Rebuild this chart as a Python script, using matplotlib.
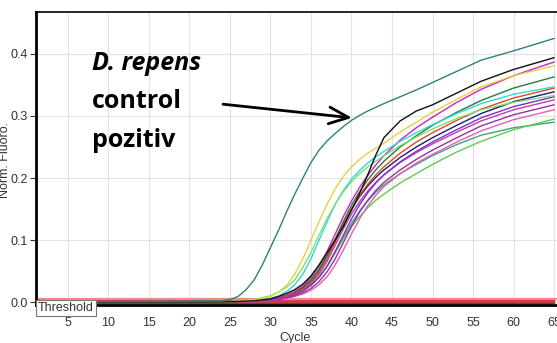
import matplotlib
matplotlib.use('Agg')
import matplotlib.pyplot as plt

# cicluri pentru controlul pozitiv (D. repens)
cicluri_poz = [1, 24, 25, 26, 27, 28, 29, 30, 31, 32, 33, 34, 35, 36, 37, 38, 39, 40,
               41, 42, 43, 44, 46, 48, 50, 53, 56, 60, 65]
control_poz = [0.0, 0.002, 0.004, 0.009, 0.02, 0.036, 0.06, 0.088, 0.116, 0.146, 0.174,
               0.2, 0.225, 0.245, 0.26, 0.272, 0.283, 0.293, 0.301, 0.308, 0.314, 0.32,
               0.331, 0.342, 0.354, 0.372, 0.39, 0.405, 0.425]

# cicluri pentru probe
cicluri = [1, 24, 28, 30, 31, 32, 33, 34, 35, 36, 37, 38, 39, 40, 41, 42, 43, 44,
           46, 48, 50, 53, 56, 60, 65]

proba_galben = [0, 0.0, 0.003, 0.009, 0.016, 0.027, 0.045, 0.07, 0.1, 0.13, 0.158, 0.183,
                0.203, 0.218, 0.23, 0.24, 0.248, 0.256, 0.274, 0.29, 0.306, 0.327, 0.347,
                0.365, 0.381]
proba_verde_deschis = [0, 0.0, 0.004, 0.01, 0.016, 0.024, 0.036, 0.056, 0.08, 0.108, 0.135,
                       0.158, 0.178, 0.194, 0.207, 0.218, 0.227, 0.236, 0.252, 0.266,
                       0.279, 0.296, 0.31, 0.322, 0.333]
proba_cyan = [0, 0.0, 0.002, 0.006, 0.01, 0.017, 0.028, 0.045, 0.07, 0.1, 0.13, 0.158, 0.18,
              0.198, 0.212, 0.224, 0.234, 0.243, 0.259, 0.273, 0.286, 0.304, 0.32, 0.335,
              0.347]
proba_negru = [0, 0.0, 0.002, 0.005, 0.009, 0.014, 0.02, 0.029, 0.042, 0.06, 0.08, 0.1,
               0.122, 0.148, 0.175, 0.205, 0.237, 0.265, 0.292, 0.308, 0.318, 0.337, 0.356,
               0.375, 0.394]
proba_magenta = [0, 0.0, 0.002, 0.004, 0.007, 0.011, 0.017, 0.026, 0.04, 0.058, 0.082, 0.11,
                 0.138, 0.163, 0.185, 0.204, 0.221, 0.236, 0.261, 0.281, 0.298, 0.322,
                 0.343, 0.365, 0.387]
proba_verde_inchis = [0, 0.0, 0.002, 0.004, 0.007, 0.011, 0.016, 0.024, 0.036, 0.053, 0.076,
                      0.102, 0.13, 0.156, 0.178, 0.197, 0.213, 0.227, 0.25, 0.268, 0.285,
                      0.306, 0.325, 0.345, 0.363]
proba_portocaliu = [0, 0.0, 0.001, 0.003, 0.006, 0.009, 0.014, 0.021, 0.032, 0.048, 0.07,
                    0.097, 0.125, 0.15, 0.172, 0.19, 0.205, 0.218, 0.24, 0.258, 0.273,
                    0.293, 0.311, 0.329, 0.345]
proba_bleumarin = [0, 0.0, 0.002, 0.004, 0.007, 0.01, 0.015, 0.023, 0.035, 0.052, 0.075, 0.1,
                   0.126, 0.15, 0.17, 0.187, 0.201, 0.213, 0.233, 0.25, 0.265, 0.285, 0.304,
                   0.323, 0.339]
proba_mov = [0, 0.0, 0.001, 0.003, 0.005, 0.008, 0.012, 0.018, 0.027, 0.04, 0.058, 0.082,
             0.108, 0.134, 0.157, 0.176, 0.192, 0.205, 0.226, 0.243, 0.258, 0.278, 0.297,
             0.315, 0.331]
proba_magenta2 = [0, 0.0, 0.001, 0.003, 0.006, 0.009, 0.013, 0.02, 0.03, 0.045, 0.066, 0.092,
                  0.118, 0.142, 0.162, 0.179, 0.193, 0.205, 0.225, 0.241, 0.255, 0.274,
                  0.292, 0.31, 0.326]
proba_mov2 = [0, 0.0, 0.001, 0.002, 0.004, 0.007, 0.01, 0.015, 0.022, 0.033, 0.049, 0.07,
              0.096, 0.122, 0.145, 0.164, 0.18, 0.193, 0.213, 0.23, 0.245, 0.265, 0.284,
              0.302, 0.318]
proba_roz = [0, 0.0, 0.001, 0.002, 0.004, 0.006, 0.009, 0.013, 0.019, 0.028, 0.041, 0.06,
             0.084, 0.11, 0.134, 0.155, 0.172, 0.186, 0.207, 0.224, 0.238, 0.258, 0.276,
             0.294, 0.31]
proba_verde = [0, 0.0, 0.001, 0.003, 0.005, 0.008, 0.012, 0.018, 0.027, 0.04, 0.058, 0.08,
               0.102, 0.122, 0.138, 0.152, 0.164, 0.174, 0.192, 0.207, 0.222, 0.242, 0.259,
               0.278, 0.295]
proba_verde_teal = [0, 0.0, 0.001, 0.003, 0.005, 0.008, 0.012, 0.018, 0.027, 0.04, 0.058,
                    0.08, 0.104, 0.127, 0.147, 0.163, 0.177, 0.189, 0.207, 0.222, 0.236,
                    0.254, 0.269, 0.281, 0.29]

# probe negative (plate)
cicluri_neg = [1, 65]
negative = [[0.001, 0.001], [0.002, 0.002], [-0.002, -0.002], [-0.001, -0.001], [0.0, 0.0]]
culori_neg = ['#8b0000', '#e0207a', '#111111', '#2a6040', '#c04040']
prag = 0.005

probe = [
    (proba_verde_teal, '#3aa585'),
    (proba_verde, '#5ccc4c'),
    (proba_roz, '#e060b0'),
    (proba_mov2, '#9a30a0'),
    (proba_magenta2, '#c03cb0'),
    (proba_mov, '#7a30c8'),
    (proba_bleumarin, '#1a1a80'),
    (proba_portocaliu, '#e04a18'),
    (proba_verde_inchis, '#2a7a40'),
    (proba_magenta, '#cc22cc'),
    (proba_cyan, '#30d8d8'),
    (proba_verde_deschis, '#80e070'),
    (proba_galben, '#e8d040'),
    (proba_negru, '#101010'),
]

plt.rcParams['font.family'] = ['Liberation Sans', 'DejaVu Sans']

fig = plt.figure(figsize=(5.57, 3.43), dpi=100)
ax = fig.add_axes([36 / 557, 1 - 305 / 343, 1 - 36 / 557, (305 - 12) / 343])

for neg, c in zip(negative, culori_neg):
    ax.plot(cicluri_neg, neg, color=c, lw=1.6)
ax.axhline(prag, color='#f08a80', lw=1.6)

for valori, c in probe:
    ax.plot(cicluri, valori, color=c, lw=1.0)
ax.plot(cicluri_poz, control_poz, color='#2e8080', lw=1.0)

ax.set_xlim(1.05, 65.37)
ax.set_ylim(-0.0048, 0.4677)
ax.set_xticks([5, 10, 15, 20, 25, 30, 35, 40, 45, 50, 55, 60, 65])
ax.set_yticks([0.0, 0.1, 0.2, 0.3, 0.4])
ax.set_yticklabels(['0.0', '0.1', '0.2', '0.3', '0.4'])
ax.grid(True, color='#e2e2e2', lw=0.8)
ax.set_axisbelow(True)
ax.tick_params(axis='both', labelsize=9, colors='#333333', length=4, width=0.8, pad=2)
ax.tick_params(axis='x', length=0, pad=9)
for s in ['left', 'bottom']:
    ax.spines[s].set_linewidth(2)
ax.spines['top'].set_linewidth(1.2)
ax.spines['right'].set_visible(False)

fig.text(5 / 557, 1 - 160 / 343, 'Norm. Fluoro.', rotation=90, fontsize=9,
         color='#333333', ha='center', va='center')
fig.text(295 / 557, 1 - 338 / 343, 'Cycle', fontsize=9, color='#333333',
         ha='center', va='center')
fig.text(66 / 557, 1 - 308 / 343, 'Threshold', fontsize=9, color='#333333',
         ha='center', va='center',
         bbox=dict(boxstyle='square,pad=0.15', fc='white', ec='#777777', lw=0.8))

fig.text(92 / 557, 1 - 70 / 343, 'D. repens', fontsize=18, family='Open Sans',
         weight='bold', style='italic', va='baseline')
fig.text(92 / 557, 1 - 108 / 343, 'control', fontsize=18, family='Open Sans',
         weight='bold', va='baseline')
fig.text(92 / 557, 1 - 147 / 343, 'pozitiv', fontsize=18, family='Open Sans',
         weight='bold', va='baseline')

ax.annotate('', xy=(40.06, 0.297), xytext=(24.14, 0.319),
            arrowprops=dict(arrowstyle='->,head_length=1.4,head_width=0.6',
                            lw=2, color='black', shrinkA=0, shrinkB=0))

fig.savefig('out.png', dpi=100)
